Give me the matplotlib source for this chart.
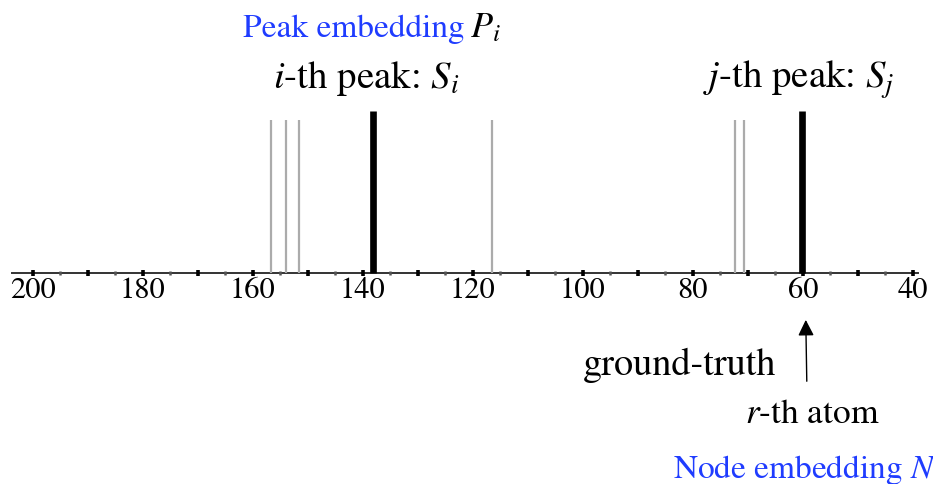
import matplotlib.pyplot as plt

plt.rcParams['font.family'] = ['STIXGeneral', 'Liberation Serif', 'DejaVu Serif']
plt.rcParams['mathtext.fontset'] = 'stix'

# shift positions (ppm) of the peaks
other_peaks = [156.7, 154.0, 151.6, 116.5, 72.4, 70.7]
other_height = [0.944, 0.944, 0.944, 0.944, 0.944, 0.944]
key_peaks = [138.1, 60.1]
key_height = [1.0, 1.0]
tick_values = list(range(40, 201, 10))
minor_values = list(range(45, 201, 10))

blue = '#1f3cff'

fig = plt.figure(figsize=(9.33, 4.85), dpi=100)
ax = fig.add_axes([0, 0, 1, 1])
ax.set_xlim(206.0, 36.36)
ax.set_ylim(-1.302, 1.691)

ax.vlines(other_peaks, 0, other_height, colors='#ababab', lw=1.6)
ax.vlines(key_peaks, 0, key_height, colors='black', lw=4.8)

for s in ['top', 'right', 'left']:
    ax.spines[s].set_visible(False)
ax.spines['bottom'].set_position(('data', 0))
ax.spines['bottom'].set_bounds(203.8, 39.1)
ax.spines['bottom'].set_color('#333333')
ax.spines['bottom'].set_linewidth(1.4)
ax.spines['bottom'].set_zorder(0)
ax.set_yticks([])
ax.set_xticks(tick_values)
ax.set_xticklabels([str(t) if t % 20 == 0 else '' for t in tick_values])
ax.set_xticks(minor_values, minor=True)
ax.tick_params(axis='x', which='major', direction='inout', length=5, width=2.6,
               color='black', labelsize=22, pad=0)
ax.tick_params(axis='x', which='minor', direction='inout', length=3, width=1.8,
               color='#555555')

W, H = 933, 485
def fx(px):
    return px / W
def fy(py):
    return 1 - py / H

fig.text(fx(243), fy(37), 'Peak embedding', color=blue, fontsize=24, va='baseline')
fig.text(fx(470), fy(37), '$P_i$', color='black', fontsize=26, va='baseline')
fig.text(fx(366), fy(88), '$i$-th peak: $S_i$', fontsize=28, ha='center', va='baseline')
fig.text(fx(799), fy(88), '$j$-th peak: $S_j$', fontsize=28, ha='center', va='baseline')
fig.text(fx(583), fy(375), 'ground-truth', fontsize=27.5, va='baseline')
fig.text(fx(745), fy(423), '$r$-th atom', fontsize=25.5, va='baseline')
fig.text(fx(673), fy(478), 'Node embedding $N_r$', color=blue, fontsize=24, va='baseline')

ax.annotate('', xy=(59.5, -0.272), xytext=(59.3, -0.685),
            arrowprops=dict(arrowstyle='-|>', mutation_scale=24, lw=1, color='black'))

fig.savefig('out.png', dpi=100)
